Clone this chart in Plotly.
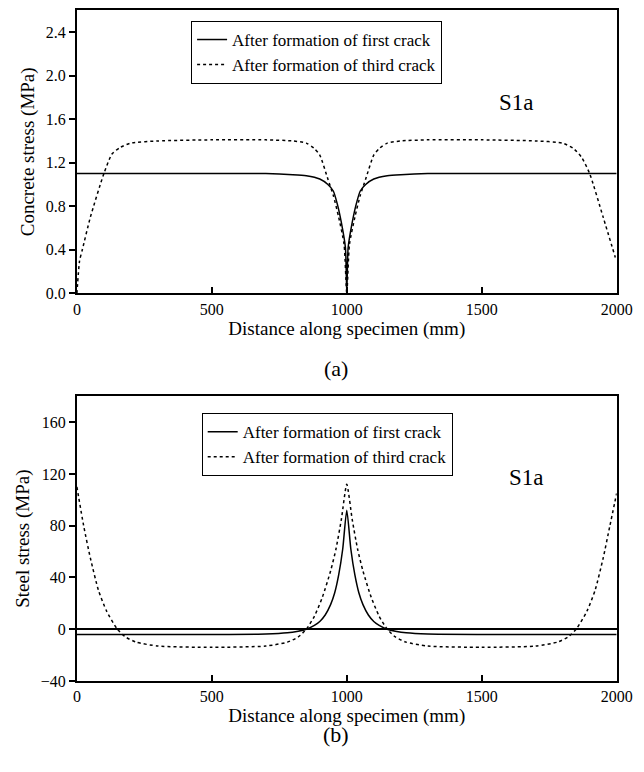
import plotly.graph_objects as go

# Concrete stress (a)
xc1 = [0, 200, 400, 600, 700, 800, 850, 900, 930, 950, 965, 980, 995, 1000, 1005, 1020, 1035, 1050, 1070, 1100, 1150, 1200, 1300, 1400, 2000]
yc1 = [1.1, 1.1, 1.1, 1.1, 1.1, 1.09, 1.08, 1.05, 1.0, 0.94, 0.82, 0.65, 0.42, 0.0, 0.42, 0.65, 0.82, 0.94, 1.0, 1.05, 1.08, 1.09, 1.1, 1.1, 1.1]
xc3 = [0, 10, 20, 50, 100, 130, 160, 200, 300, 500, 700, 800, 850, 880, 900, 930, 950, 970, 990, 1000, 1010, 1030, 1050, 1070, 1100, 1120, 1150, 1200, 1300, 1500, 1700, 1800, 1840, 1870, 1900, 1950, 1995]
yc3 = [0.0, 0.3, 0.4, 0.7, 1.1, 1.28, 1.34, 1.38, 1.40, 1.41, 1.41, 1.40, 1.38, 1.33, 1.27, 1.05, 0.9, 0.7, 0.45, 0.0, 0.45, 0.7, 0.9, 1.05, 1.27, 1.33, 1.38, 1.40, 1.41, 1.41, 1.40, 1.38, 1.33, 1.25, 1.1, 0.7, 0.33]

# Steel stress (b)
xs1 = [0, 500, 700, 780, 820, 850, 880, 900, 920, 940, 955, 970, 985, 1000, 1015, 1030, 1045, 1060, 1080, 1100, 1120, 1150, 1180, 1220, 1300, 1500, 2000]
ys1 = [-4, -4, -3.7, -2.8, -1.5, 0, 3, 6, 11, 19, 28, 42, 62, 92, 62, 42, 28, 19, 11, 6, 3, 0, -1.5, -2.8, -3.7, -4, -4]
xs3 = [0, 25, 50, 80, 110, 150, 180, 220, 300, 500, 700, 780, 820, 850, 880, 910, 940, 960, 980, 1000, 1020, 1040, 1060, 1090, 1120, 1150, 1180, 1220, 1300, 1500, 1700, 1780, 1820, 1850, 1890, 1920, 1950, 1975, 2000]
ys3 = [110, 80, 55, 30, 14, 0, -6, -10, -13, -14, -13, -10, -6, 0, 10, 25, 45, 62, 85, 112, 85, 62, 45, 25, 10, 0, -6, -10, -13, -14, -13, -10, -6, 0, 14, 30, 55, 80, 105]

names = ["After formation of first crack", "After formation of third crack"]
F = "Liberation Serif, Times New Roman, DejaVu Serif, serif"

fig = go.Figure()
ln = dict(color="black", width=1.5, shape="spline", smoothing=0.6)
dl = dict(color="black", width=1.5, dash="dot", shape="spline", smoothing=0.6)
fig.add_trace(go.Scatter(x=xc1, y=yc1, mode="lines", line=ln, name=names[0], xaxis="x", yaxis="y", legend="legend"))
fig.add_trace(go.Scatter(x=xc3, y=yc3, mode="lines", line=dl, name=names[1], xaxis="x", yaxis="y", legend="legend"))
fig.add_trace(go.Scatter(x=xs1, y=ys1, mode="lines", line=ln, name=names[0], xaxis="x2", yaxis="y2", legend="legend2"))
fig.add_trace(go.Scatter(x=xs3, y=ys3, mode="lines", line=dl, name=names[1], xaxis="x2", yaxis="y2", legend="legend2"))

ax = dict(showline=True, linecolor="black", linewidth=2, mirror=True, showgrid=False, zeroline=False,
          tickfont=dict(family=F, size=16, color="black"), ticklen=6, tickwidth=1.5, tickcolor="black")
xax = dict(ax, range=[0, 2000], tickvals=[0, 500, 1000, 1500, 2000], ticks="inside",
           title=dict(text="Distance along specimen (mm)", font=dict(family=F, size=19, color="black"), standoff=4))
leg = dict(font=dict(family=F, size=17, color="black"), bordercolor="black", borderwidth=1, bgcolor="white",
           xanchor="left", yanchor="top", tracegroupgap=0)
fig.update_layout(
    width=644, height=772, paper_bgcolor="white", plot_bgcolor="white",
    margin=dict(l=0, r=0, t=0, b=0),
    xaxis=dict(xax, domain=[0.104, 0.969], anchor="y"),
    yaxis=dict(ax, domain=[0.626, 0.997], range=[0, 2.6], tickvals=[0, 0.4, 0.8, 1.2, 1.6, 2.0, 2.4],
               ticktext=["0.0", "0.4", "0.8", "1.2", "1.6", "2.0", "2.4"], ticks="outside", anchor="x",
               title=dict(text="Concrete stress (MPa)", font=dict(family=F, size=19, color="black"), standoff=6)),
    xaxis2=dict(xax, domain=[0.104, 0.969], anchor="y2"),
    yaxis2=dict(ax, domain=[0.118, 0.491], range=[-40, 180], tickvals=[-40, 0, 40, 80, 120, 160], ticks="outside",
                anchor="x2", zeroline=True, zerolinecolor="black", zerolinewidth=1.5,
                title=dict(text="Steel stress (MPa)", font=dict(family=F, size=19, color="black"), standoff=6)),
    legend=dict(leg, x=0.287, y=0.983),
    legend2=dict(leg, x=0.304, y=0.469),
    annotations=[
        dict(text="S1a", x=0.84, y=0.895, xref="paper", yref="paper", showarrow=False, font=dict(family=F, size=23, color="black")),
        dict(text="S1a", x=0.855, y=0.385, xref="paper", yref="paper", showarrow=False, font=dict(family=F, size=23, color="black")),
        dict(text="(a)", x=0.52, y=1 - 365 / 772, xref="paper", yref="paper", showarrow=False, font=dict(family=F, size=22, color="black")),
        dict(text="(b)", x=0.52, y=1 - 750 / 772, xref="paper", yref="paper", showarrow=False, font=dict(family=F, size=22, color="black")),
    ],
)
fig.write_html("out.html")
